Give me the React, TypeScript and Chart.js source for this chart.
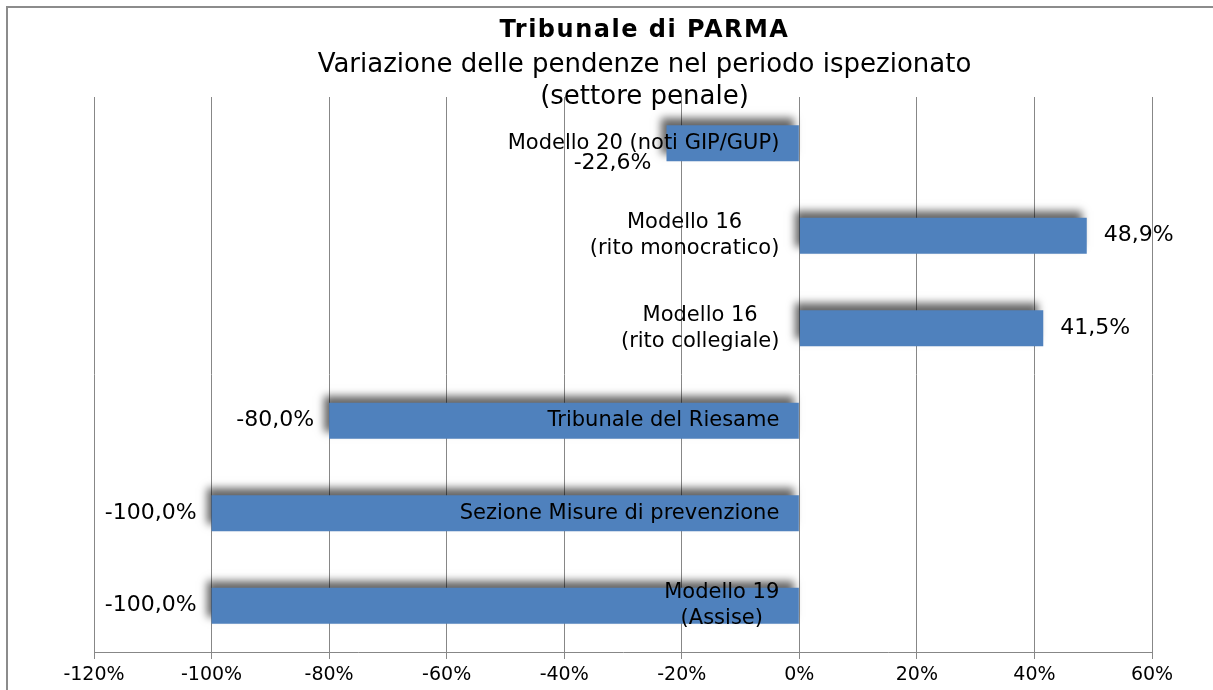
import React, { useEffect, useRef } from "react";
import { Chart, registerables } from "chart.js";

Chart.register(...registerables);

const titleText = "Tribunale di PARMA";
const subtitleLines = ["Variazione delle pendenze nel periodo ispezionato", "(settore penale)"];
const categories: string[][] = [
  ["Modello 20 (noti GIP/GUP)"],
  ["Modello 16", "(rito monocratico)"],
  ["Modello 16", "(rito collegiale)"],
  ["Tribunale del Riesame"],
  ["Sezione Misure di prevenzione"],
  ["Modello 19", "(Assise)"],
];
const values = [-22.6, 48.9, 41.5, -80.0, -100.0, -100.0];
const xMin = -120;
const xMax = 60;
const xStep = 20;

const FONT = "'DejaVu Sans', Verdana, sans-serif";

const fmtValue = (v: number) => v.toFixed(1).replace(".", ",") + "%";

const labelPlugin = {
  id: "customLabels",
  beforeDatasetsDraw(chart: any) {
    const ctx = chart.ctx;
    ctx.save();
    ctx.shadowColor = "rgba(0,0,0,0.6)";
    ctx.shadowBlur = 8;
    ctx.shadowOffsetX = -5;
    ctx.shadowOffsetY = -7;
  },
  afterDatasetsDraw(chart: any) {
    const ctx = chart.ctx;
    ctx.restore();
    const xs = chart.scales.x;
    const x0 = xs.getPixelForValue(0);
    const meta = chart.getDatasetMeta(0);
    const lh = 26;
    ctx.save();
    ctx.fillStyle = "#000";
    ctx.textBaseline = "middle";
    meta.data.forEach((el: any, i: number) => {
      ctx.font = `21px ${FONT}`;
      const lines = categories[i];
      const maxW = Math.max(...lines.map((l) => ctx.measureText(l).width));
      const right = x0 - 20;
      const cx = right - maxW / 2;
      const y0 = el.y - ((lines.length - 1) * lh) / 2;
      ctx.textAlign = "center";
      lines.forEach((l, k) => ctx.fillText(l, cx, y0 + k * lh));
      const catLeft = right - maxW;
      const catTop = el.y - (lines.length * lh) / 2;
      const catBottom = el.y + (lines.length * lh) / 2;

      ctx.font = `22px ${FONT}`;
      const v = values[i];
      const txt = fmtValue(v);
      const w = ctx.measureText(txt).width;
      const end = xs.getPixelForValue(v);
      let lx: number;
      if (v >= 0) {
        lx = end + 17;
      } else {
        lx = end - 15 - w;
      }
      let ly = el.y;
      const overlapX = lx < right && lx + w > catLeft;
      const overlapY = ly - 10 < catBottom && ly + 10 > catTop;
      if (overlapX && overlapY) ly = el.y + 20;
      ctx.textAlign = "left";
      ctx.fillText(txt, lx, ly);
    });
    ctx.restore();
  },
  afterDraw(chart: any) {
    const ctx = chart.ctx;
    const cx = chart.width / 2 + 38;
    ctx.save();
    ctx.fillStyle = "#000";
    ctx.textAlign = "center";
    ctx.textBaseline = "middle";
    ctx.font = `bold 24px ${FONT}`;
    try {
      (ctx as any).letterSpacing = "1.5px";
    } catch (e) {}
    ctx.fillText(titleText, cx, 31);
    try {
      (ctx as any).letterSpacing = "0px";
    } catch (e) {}
    ctx.font = `26px ${FONT}`;
    subtitleLines.forEach((l, k) => ctx.fillText(l, cx, 65 + k * 32));
    ctx.restore();
  },
};

export default function App() {
  const ref = useRef<HTMLCanvasElement | null>(null);
  useEffect(() => {
    if (!ref.current) return;
    const chart = new Chart(ref.current, {
      type: "bar",
      data: {
        labels: categories,
        datasets: [
          {
            data: values,
            backgroundColor: "#4F81BD",
            borderWidth: 0,
            categoryPercentage: 1,
            barPercentage: 0.39,
          },
        ],
      },
      options: {
        indexAxis: "y",
        animation: false,
        responsive: true,
        maintainAspectRatio: false,
        layout: { padding: { left: 94, right: 61, top: 97, bottom: 0 } },
        plugins: {
          legend: { display: false },
          tooltip: { enabled: false },
          title: { display: false },
        },
        scales: {
          x: {
            min: xMin,
            max: xMax,
            ticks: {
              stepSize: xStep,
              color: "#000",
              font: { family: FONT, size: 19 },
              padding: 5,
              maxRotation: 0,
              callback: (v: any) => `${Math.round(Number(v))}%`,
            },
            grid: { color: "#878787", lineWidth: 1, tickLength: 7, drawTicks: true },
            border: { display: true, color: "#878787", width: 1 },
            afterFit: (s: any) => {
              s.height = 38;
            },
          },
          y: {
            display: false,
            grid: { display: false },
          },
        },
      },
      plugins: [labelPlugin],
    } as any);
    return () => chart.destroy();
  }, []);
  return (
    <div style={{ position: "fixed", left: 0, top: 0, width: 1213, height: 690, background: "#fff", overflow: "hidden" }}>
      <div
        style={{
          position: "absolute",
          left: 6,
          top: 6,
          width: 1300,
          height: 800,
          borderLeft: "2px solid #8c8c8c",
          borderTop: "2px solid #8c8c8c",
        }}
      />
      <div style={{ position: "absolute", left: 0, top: 0, width: 1213, height: 690 }}>
        <canvas ref={ref} />
      </div>
    </div>
  );
}
